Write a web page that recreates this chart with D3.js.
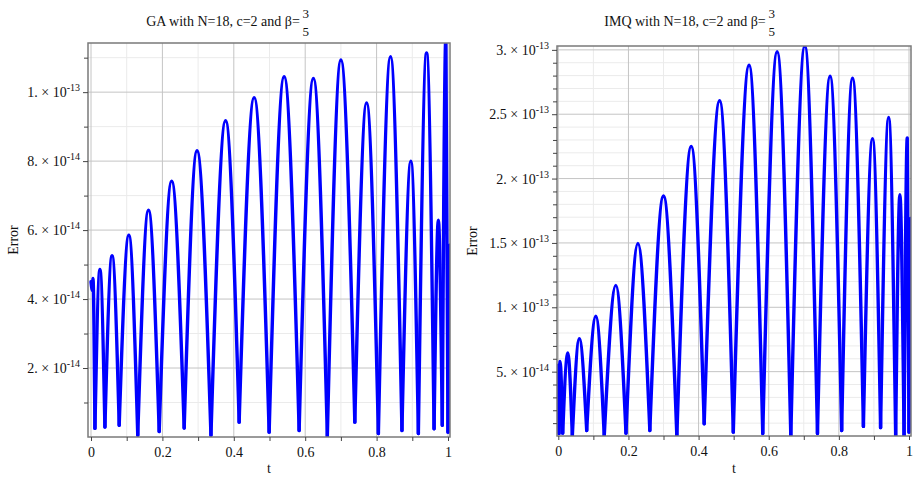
<!DOCTYPE html>
<html><head><meta charset="utf-8">
<script src="https://cdn.jsdelivr.net/npm/d3@7"></script>
<style>
body{margin:0;background:#fff;}
svg{display:block;font-family:"Liberation Serif","Times New Roman",serif;}
</style></head><body>
<svg id="chart" width="915" height="477"></svg>
<script>
// ---------- data ----------
const xTickValues = [0, 0.2, 0.4, 0.6, 0.8, 1];
const xTickLabels = ["0", "0.2", "0.4", "0.6", "0.8", "1"];
const xMinorTicks = [0.1, 0.3, 0.5, 0.7, 0.9];

// GA panel: extrema of |error| (error in units of 1e-14)
const gaT = [0, 0.004, 0.0056, 0.011, 0.025, 0.039, 0.059, 0.079, 0.106, 0.131, 0.161, 0.191,
  0.226, 0.261, 0.297, 0.336, 0.377, 0.415, 0.457, 0.499, 0.541, 0.583, 0.623, 0.662, 0.700,
  0.739, 0.772, 0.805, 0.839, 0.871, 0.896, 0.917, 0.940, 0.961, 0.973, 0.984, 0.994, 1.0, 1.004];
const gaErr = [4.5, 4.25, 4.6, 0.25, 4.86, 0.29, 5.26, 0.34, 5.85, 0.05, 6.58, 0.16,
  7.42, 0.26, 8.3, 0.05, 9.17, 0.43, 9.84, 0.14, 10.45, 0.19, 10.4, 0.02, 10.93,
  0.43, 9.69, 0.1, 11.03, 0.19, 8.0, 0.1, 11.14, 0.24, 6.29, 0.34, 11.6, 0.14, 5.56];
const gaYTicks = [2e-14, 4e-14, 6e-14, 8e-14, 1e-13];
const gaYMantissa = ["2.", "4.", "6.", "8.", "1."];
const gaYExponent = ["-14", "-14", "-14", "-14", "-13"];
const gaYMinor = [1e-14, 3e-14, 5e-14, 7e-14, 9e-14, 1.1e-13];
const gaYMax = 1.1425e-13;

// IMQ panel (error in units of 1e-14)
const imqT = [0, 0.002, 0.005, 0.0125, 0.027, 0.040, 0.060, 0.081, 0.107, 0.131, 0.164, 0.193,
  0.227, 0.261, 0.300, 0.338, 0.379, 0.416, 0.460, 0.499, 0.544, 0.583, 0.624, 0.663, 0.703,
  0.739, 0.775, 0.808, 0.839, 0.870, 0.896, 0.919, 0.942, 0.962, 0.974, 0.986, 0.995, 1.0, 1.004];
const imqErr = [5.5, 0.2, 5.8, 0.22, 6.45, 0, 7.55, 0.43, 9.3, 0, 11.7, 0.22,
  14.95, 0.43, 18.65, 0, 22.5, 0.95, 26.05, 0.3, 28.8, 0.2, 29.85, 0, 30.3,
  0.2, 27.95, 0.43, 27.8, 0.75, 23.1, 0.65, 24.75, 0, 18.75, 0, 23.15, 0.3, 16.9];
const imqYTicks = [5e-14, 1e-13, 1.5e-13, 2e-13, 2.5e-13, 3e-13];
const imqYMantissa = ["5.", "1.", "1.5", "2.", "2.5", "3."];
const imqYExponent = ["-14", "-13", "-13", "-13", "-13", "-13"];
const imqYMinor = [1e-14, 2e-14, 3e-14, 4e-14, 6e-14, 7e-14, 8e-14, 9e-14,
  1.1e-13, 1.2e-13, 1.3e-13, 1.4e-13, 1.6e-13, 1.7e-13, 1.8e-13, 1.9e-13,
  2.1e-13, 2.2e-13, 2.3e-13, 2.4e-13, 2.6e-13, 2.7e-13, 2.8e-13, 2.9e-13];
const imqYMax = 3.03e-13;

const errUnit = 1e-14;

// ---------- layout ----------
const panels = [
  { id: "ga", name: "GA", t: gaT, err: gaErr, troughBelow: 1, yMax: gaYMax,
    yTicks: gaYTicks, yMant: gaYMantissa, yExp: gaYExponent, yMinor: gaYMinor,
    box: { left: 88, right: 450, top: 43, bottom: 437 }, xr: [91, 448],
    titleCenter: 228, errLabelX: 18 },
  { id: "imq", name: "IMQ", t: imqT, err: imqErr, troughBelow: 1.5, yMax: imqYMax,
    yTicks: imqYTicks, yMant: imqYMantissa, yExp: imqYExponent, yMinor: imqYMinor,
    box: { left: 557, right: 911, top: 46, bottom: 436 }, xr: [558.3, 909],
    titleCenter: 690, errLabelX: 477 }
];

const svg = d3.select("#chart");

panels.forEach(p => {
  const b = p.box;
  const g = svg.append("g");
  const x = d3.scaleLinear().domain([0, 1]).range(p.xr);
  const y = d3.scaleLinear().domain([0, p.yMax]).range([b.bottom, b.top]);

  // minor grid
  g.selectAll(".hminor").data(p.yMinor).join("line")
    .attr("x1", b.left).attr("x2", b.right)
    .attr("y1", d => y(d)).attr("y2", d => y(d))
    .attr("stroke", "#ebebeb").attr("stroke-width", 1);
  g.selectAll(".vminor").data(xMinorTicks).join("line")
    .attr("x1", d => x(d)).attr("x2", d => x(d))
    .attr("y1", b.top).attr("y2", b.bottom)
    .attr("stroke", "#ebebeb").attr("stroke-width", 1);
  // major grid
  g.selectAll(".hmajor").data(p.yTicks).join("line")
    .attr("x1", b.left).attr("x2", b.right)
    .attr("y1", d => y(d)).attr("y2", d => y(d))
    .attr("stroke", "#c4c4c4").attr("stroke-width", 1);
  g.selectAll(".vmajor").data(xTickValues).join("line")
    .attr("x1", d => x(d)).attr("x2", d => x(d))
    .attr("y1", b.top).attr("y2", b.bottom)
    .attr("stroke", "#c4c4c4").attr("stroke-width", 1);

  // curve: split into arches at troughs so troughs stay sharp
  const pts = p.t.map((t, i) => ({ t, e: p.err[i] * errUnit, v: p.err[i] }));
  const pieces = [];
  let cur = [pts[0]];
  for (let i = 1; i < pts.length; i++) {
    cur.push(pts[i]);
    if (pts[i].v < p.troughBelow && i < pts.length - 1) {
      pieces.push(cur);
      cur = [pts[i]];
    }
  }
  pieces.push(cur);

  const clipId = "clip-" + p.id;
  svg.append("clipPath").attr("id", clipId).append("rect")
    .attr("x", b.left).attr("y", b.top)
    .attr("width", b.right - b.left).attr("height", b.bottom - b.top);

  const line = d3.line().x(d => x(d.t)).y(d => y(d.e)).curve(d3.curveMonotoneX);
  g.append("g").attr("clip-path", `url(#${clipId})`)
    .selectAll("path").data(pieces).join("path")
    .attr("d", line)
    .attr("fill", "none").attr("stroke", "#0000ff")
    .attr("stroke-width", 3.4).attr("stroke-linejoin", "round").attr("stroke-linecap", "round");

  // frame
  g.append("rect").attr("x", b.left).attr("y", b.top)
    .attr("width", b.right - b.left).attr("height", b.bottom - b.top)
    .attr("fill", "none").attr("stroke", "#7a7a7a").attr("stroke-width", 1.5);

  // axes ticks
  const xAxisMajor = d3.axisBottom(x).tickValues(xTickValues)
    .tickFormat((d, i) => xTickLabels[i]).tickSize(4).tickSizeOuter(0).tickPadding(6);
  const xAx = g.append("g").attr("transform", `translate(0,${b.bottom})`).call(xAxisMajor);
  xAx.select(".domain").remove();
  xAx.selectAll("text").attr("font-family", "Liberation Serif, serif").attr("font-size", 14).attr("fill", "#111");
  const xAxisMinor = d3.axisBottom(x).tickValues(xMinorTicks).tickFormat("").tickSize(4).tickSizeOuter(0);
  g.append("g").attr("transform", `translate(0,${b.bottom})`).call(xAxisMinor).select(".domain").remove();

  const yAxisMinor = d3.axisLeft(y).tickValues(p.yMinor).tickFormat("").tickSize(4).tickSizeOuter(0);
  g.append("g").attr("transform", `translate(${b.left},0)`).call(yAxisMinor).select(".domain").remove();
  const yAxisMajor = d3.axisLeft(y).tickValues(p.yTicks).tickFormat("").tickSize(5).tickSizeOuter(0);
  const yAx = g.append("g").attr("transform", `translate(${b.left},0)`).call(yAxisMajor);
  yAx.select(".domain").remove();
  g.selectAll(".tick line").attr("stroke", "#444");

  // y tick labels with superscript exponent
  const yl = g.selectAll(".ylab").data(p.yTicks).join("text")
    .attr("x", b.left - 8).attr("y", d => y(d) + 5)
    .attr("text-anchor", "end").attr("font-size", 14).attr("fill", "#111");
  yl.append("tspan").text((d, i) => p.yMant[i] + " \u00d7 10");
  yl.append("tspan").attr("font-size", 10).attr("dy", -6).text((d, i) => p.yExp[i]);

  // axis titles
  g.append("text").attr("x", (b.left + b.right) / 2).attr("y", 473)
    .attr("text-anchor", "middle").attr("font-size", 14).attr("fill", "#111").text("t");
  g.append("text").attr("transform", `translate(${p.errLabelX},${(b.top + b.bottom) / 2}) rotate(-90)`)
    .attr("text-anchor", "middle").attr("font-size", 14).attr("fill", "#111").text("Error");

  // title with stacked fraction 3/5
  const title = g.append("text").attr("y", 26).attr("font-size", 14).attr("fill", "#111")
    .text(p.name + " with N=18, c=2 and \u03b2=");
  const w = title.node().getComputedTextLength();
  const fracW = 8;
  const startX = p.titleCenter - (w + fracW + 2) / 2;
  title.attr("x", startX);
  const fx = startX + w + 2 + fracW / 2;
  g.append("text").attr("x", fx).attr("y", 18).attr("text-anchor", "middle")
    .attr("font-size", 13).attr("fill", "#111").text("3");
  g.append("text").attr("x", fx).attr("y", 36).attr("text-anchor", "middle")
    .attr("font-size", 13).attr("fill", "#111").text("5");
});
</script>
</body></html>
